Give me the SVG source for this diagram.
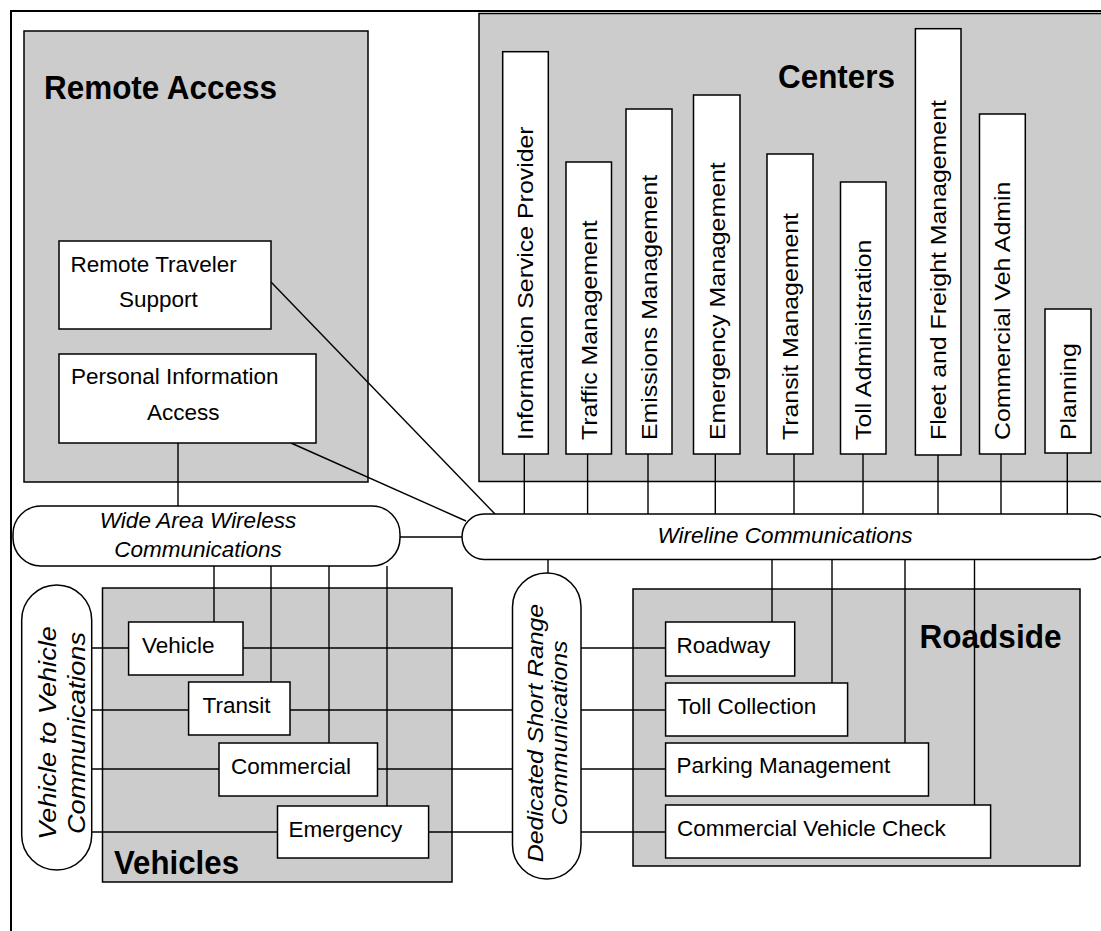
<svg xmlns="http://www.w3.org/2000/svg" width="1101" height="931" viewBox="0 0 1101 931">
<style>
.bg{fill:#ffffff}
.grp{fill:#cccccc;stroke:#000;stroke-width:1.5}
.node{fill:#ffffff;stroke:#000;stroke-width:1.5}
.pill{fill:#ffffff;stroke:#000;stroke-width:1.5}
.conn line{stroke:#000;stroke-width:1.4}
.title{font-family:"Liberation Sans",Arial,sans-serif;font-weight:bold;font-size:34px;fill:#000}
.lbl{font-family:"Liberation Sans",Arial,sans-serif;font-size:22.5px;fill:#000}
.vl{font-family:"Liberation Sans",Arial,sans-serif;font-size:22px;fill:#000}
.it{font-family:"Liberation Sans",Arial,sans-serif;font-style:italic;font-size:22.5px;fill:#000}
.vit{font-family:"Liberation Sans",Arial,sans-serif;font-style:italic;font-size:22px;fill:#000;text-anchor:middle}
</style>
<rect class="bg" x="0" y="0" width="1101" height="931"/>
<path d="M11,931 V11 H1101" fill="none" stroke="#000" stroke-width="2"/>

<g id="remote-access">
<rect class="grp" x="24" y="31" width="344" height="451"/>
<text class="title" x="44" y="99" textLength="233" lengthAdjust="spacingAndGlyphs">Remote Access</text>
</g>
<g id="centers">
<rect class="grp" x="479" y="13.5" width="640" height="468"/>
<text class="title" x="778" y="88" textLength="117" lengthAdjust="spacingAndGlyphs">Centers</text>
</g>
<g id="vehicles">
<rect class="grp" x="102.5" y="588" width="349.5" height="294"/>
<text class="title" x="114" y="874" textLength="125" lengthAdjust="spacingAndGlyphs">Vehicles</text>
</g>
<g id="roadside">
<rect class="grp" x="633" y="589" width="447" height="277"/>
<text class="title" x="919.5" y="648" textLength="142" lengthAdjust="spacingAndGlyphs">Roadside</text>
</g>

<g id="connectors" class="conn">
<line x1="271" y1="282" x2="495" y2="514"/>
<line x1="291" y1="443" x2="466" y2="521"/>
<line x1="178" y1="443" x2="178" y2="506"/>
<line x1="400" y1="537" x2="462" y2="537"/>
<line x1="524.3" y1="454" x2="524.3" y2="514"/>
<line x1="587.6" y1="454" x2="587.6" y2="514"/>
<line x1="648" y1="454" x2="648" y2="514"/>
<line x1="715.3" y1="454" x2="715.3" y2="514"/>
<line x1="794" y1="454" x2="794" y2="514"/>
<line x1="863" y1="454" x2="863" y2="514"/>
<line x1="938" y1="455" x2="938" y2="514"/>
<line x1="1001" y1="454" x2="1001" y2="514"/>
<line x1="1067.3" y1="453" x2="1067.3" y2="514"/>
<line x1="548" y1="559.5" x2="548" y2="573"/>
<line x1="772" y1="559.5" x2="772" y2="622"/>
<line x1="832" y1="559.5" x2="832" y2="683"/>
<line x1="905" y1="559.5" x2="905" y2="743"/>
<line x1="974.5" y1="559.5" x2="974.5" y2="805"/>
<line x1="214" y1="566" x2="214" y2="622"/>
<line x1="271" y1="566" x2="271" y2="682"/>
<line x1="329" y1="566" x2="329" y2="743"/>
<line x1="387" y1="566" x2="387" y2="806"/>
<line x1="91.7" y1="648" x2="512.5" y2="648"/>
<line x1="91.7" y1="710" x2="512.5" y2="710"/>
<line x1="91.7" y1="769" x2="512.5" y2="769"/>
<line x1="91.7" y1="832" x2="512.5" y2="832"/>
<line x1="581" y1="648" x2="665.6" y2="648"/>
<line x1="581" y1="710" x2="665.6" y2="710"/>
<line x1="581" y1="769" x2="665.6" y2="769"/>
<line x1="581" y1="832" x2="665.6" y2="832"/>
</g>

<g id="remote-traveler-support">
<rect class="node" x="59" y="241" width="212" height="88"/>
<text class="lbl" x="70.5" y="272">Remote Traveler</text>
<text class="lbl" x="119" y="307">Support</text>
</g>
<g id="personal-information-access">
<rect class="node" x="59" y="354" width="257" height="89"/>
<text class="lbl" x="71" y="384">Personal Information</text>
<text class="lbl" x="147" y="420">Access</text>
</g>

<g id="information-service-provider">
<rect class="node" x="502.7" y="51.7" width="45.6" height="402.3"/>
<text class="vl" transform="translate(533.4,440) rotate(-90) scale(1.13,1)">Information Service Provider</text>
</g>
<g id="traffic-management">
<rect class="node" x="566" y="162" width="45.5" height="292"/>
<text class="vl" transform="translate(596.6,440) rotate(-90) scale(1.13,1)">Traffic Management</text>
</g>
<g id="emissions-management">
<rect class="node" x="626" y="109" width="46" height="345"/>
<text class="vl" transform="translate(656.9,440) rotate(-90) scale(1.13,1)">Emissions Management</text>
</g>
<g id="emergency-management">
<rect class="node" x="693.5" y="95" width="46.5" height="359"/>
<text class="vl" transform="translate(724.6,440) rotate(-90) scale(1.13,1)">Emergency Management</text>
</g>
<g id="transit-management">
<rect class="node" x="767" y="154" width="46" height="300"/>
<text class="vl" transform="translate(797.9,440) rotate(-90) scale(1.13,1)">Transit Management</text>
</g>
<g id="toll-administration">
<rect class="node" x="840.5" y="182" width="45.5" height="272"/>
<text class="vl" transform="translate(871.1,440) rotate(-90) scale(1.13,1)">Toll Administration</text>
</g>
<g id="fleet-freight-management">
<rect class="node" x="915.4" y="28.7" width="45.6" height="426.3"/>
<text class="vl" transform="translate(946.1,440) rotate(-90) scale(1.13,1)">Fleet and Freight Management</text>
</g>
<g id="commercial-veh-admin">
<rect class="node" x="979.5" y="114" width="45.8" height="340"/>
<text class="vl" transform="translate(1010.3,440) rotate(-90) scale(1.13,1)">Commercial Veh Admin</text>
</g>
<g id="planning">
<rect class="node" x="1045" y="309" width="46" height="144"/>
<text class="vl" transform="translate(1075.9,440) rotate(-90) scale(1.13,1)">Planning</text>
</g>

<g id="wide-area-wireless">
<rect class="pill" x="13" y="506" width="387" height="60" rx="28" ry="28"/>
<text class="it" x="198" y="528" text-anchor="middle">Wide Area Wireless</text>
<text class="it" x="198" y="557" text-anchor="middle">Communications</text>
</g>
<g id="wireline">
<rect class="pill" x="462" y="514" width="650" height="45.5" rx="22" ry="22.75"/>
<text class="it" x="785" y="543" text-anchor="middle">Wireline Communications</text>
</g>
<g id="vehicle-to-vehicle">
<rect class="pill" x="21.7" y="585" width="70" height="285" rx="35" ry="35"/>
<text class="vit" transform="translate(56,733) rotate(-90) scale(1.18,1)" style="font-size:23px">Vehicle to Vehicle</text>
<text class="vit" transform="translate(85,733) rotate(-90) scale(1.18,1)" style="font-size:23px">Communications</text>
</g>
<g id="dsrc">
<rect class="pill" x="512.5" y="573" width="68.5" height="306" rx="34" ry="34"/>
<text class="vit" transform="translate(543,733) rotate(-90) scale(1.13,1)">Dedicated Short Range</text>
<text class="vit" transform="translate(567,733) rotate(-90) scale(1.13,1)">Communications</text>
</g>

<g id="vehicle">
<rect class="node" x="128.6" y="622" width="114.4" height="53"/>
<text class="lbl" x="142" y="653">Vehicle</text>
</g>
<g id="transit">
<rect class="node" x="188.6" y="682" width="101.4" height="53"/>
<text class="lbl" x="202.5" y="713">Transit</text>
</g>
<g id="commercial">
<rect class="node" x="219" y="743" width="158.5" height="53"/>
<text class="lbl" x="231" y="774">Commercial</text>
</g>
<g id="emergency">
<rect class="node" x="277.5" y="806" width="151.1" height="52"/>
<text class="lbl" x="288.5" y="837">Emergency</text>
</g>

<g id="roadway">
<rect class="node" x="665.6" y="622" width="129.1" height="54"/>
<text class="lbl" x="676.5" y="653">Roadway</text>
</g>
<g id="toll-collection">
<rect class="node" x="665.6" y="683" width="182" height="53"/>
<text class="lbl" x="677.5" y="714">Toll Collection</text>
</g>
<g id="parking-management">
<rect class="node" x="665.6" y="743" width="262.9" height="53"/>
<text class="lbl" x="676.5" y="773">Parking Management</text>
</g>
<g id="commercial-vehicle-check">
<rect class="node" x="665.6" y="805" width="325" height="53"/>
<text class="lbl" x="677" y="836">Commercial Vehicle Check</text>
</g>
</svg>
